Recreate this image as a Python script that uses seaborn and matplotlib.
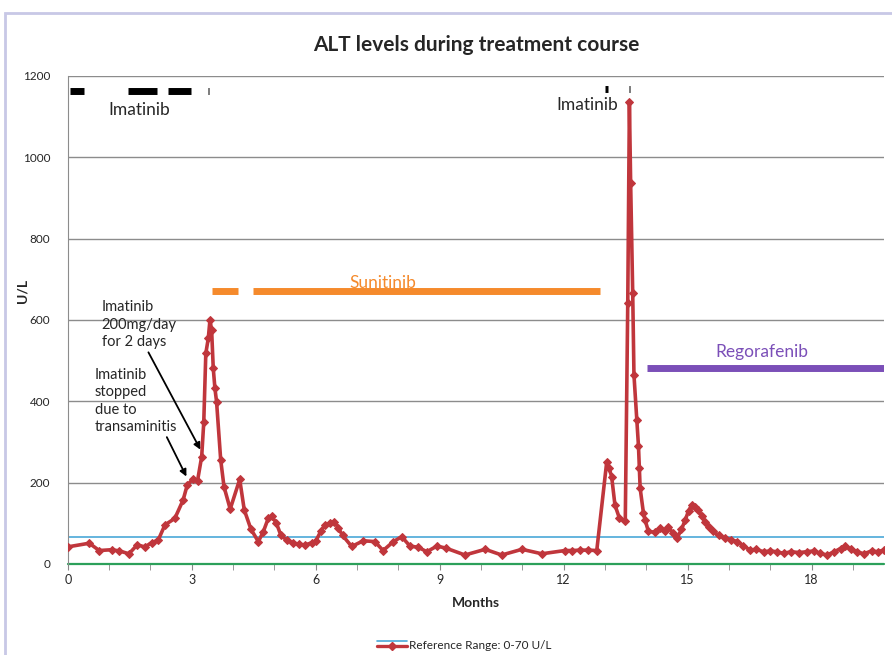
# ALT levels during treatment course - line chart with treatment bars

import matplotlib
matplotlib.use("Agg")
import pandas as pd
import seaborn as sns
import matplotlib.pyplot as plt
from matplotlib.lines import Line2D
from matplotlib.patches import Rectangle

# ALT values (U/L)
months = [0.0, 0.52, 0.76, 1.06, 1.25, 1.48, 1.68, 1.86, 2.03, 2.19, 2.35, 2.59, 2.79, 2.89,
          3.03, 3.14, 3.24, 3.29, 3.34, 3.40, 3.44, 3.48, 3.52, 3.56, 3.60, 3.70, 3.78, 3.93,
          4.16, 4.27, 4.43, 4.61, 4.73, 4.85, 4.93, 5.05, 5.15, 5.30, 5.45, 5.60, 5.75, 5.90,
          6.00, 6.12, 6.22, 6.35, 6.45, 6.55, 6.65, 6.87, 7.15, 7.43, 7.63, 7.88, 8.08, 8.28,
          8.48, 8.69, 8.93, 9.15, 9.61, 10.10, 10.50, 10.99, 11.47, 12.03, 12.20, 12.40, 12.60,
          12.80, 13.04, 13.10, 13.16, 13.24, 13.35, 13.49, 13.55, 13.59, 13.62, 13.67, 13.70,
          13.77, 13.81, 13.83, 13.85, 13.93, 13.97, 14.05, 14.20, 14.33, 14.45, 14.53, 14.65,
          14.74, 14.85, 14.94, 15.02, 15.10, 15.18, 15.26, 15.34, 15.42, 15.52, 15.62, 15.75,
          15.91, 16.05, 16.19, 16.35, 16.51, 16.65, 16.84, 17.00, 17.15, 17.32, 17.50, 17.70,
          17.88, 18.05, 18.20, 18.37, 18.55, 18.70, 18.81, 18.95, 19.10, 19.26, 19.45, 19.60,
          19.74]
alt = [42, 51, 33, 35, 32, 25, 47, 42, 52, 59, 96, 112, 157, 194,
       209, 205, 264, 348, 518, 555, 600, 576, 481, 432, 399, 256, 190, 135,
       208, 133, 86, 55, 79, 112, 118, 100, 72, 58, 52, 48, 47, 52,
       56, 80, 96, 100, 104, 88, 70, 43, 57, 55, 33, 55, 67, 44,
       41, 30, 44, 39, 22, 36, 22, 36, 25, 33, 33, 34, 34,
       33, 250, 235, 215, 145, 112, 105, 641, 1135, 936, 666, 465,
       354, 289, 235, 186, 125, 108, 80, 78, 88, 80, 92, 75,
       63, 85, 108, 130, 145, 140, 133, 118, 104, 90, 80, 70,
       63, 60, 55, 45, 34, 36, 30, 32, 30, 26, 30, 28,
       30, 32, 26, 22, 30, 38, 44, 36, 30, 25, 32, 30,
       34]

# treatment periods (start, end in months)
imatinib_periods = [(0.05, 0.39), (1.46, 2.15), (2.43, 2.97), (3.39, 3.42), (13.01, 13.06), (13.58, 13.61)]
sunitinib_periods = [(3.48, 4.12), (4.49, 12.87)]
regorafenib_periods = [(14.01, 19.75)]
ref_low = 0
ref_high = 66

RED = '#c0363c'
BLUE = '#4aa8d8'

df = pd.DataFrame({"Months": months, "ALT": alt})

sns.set_style("white")
plt.rcParams['font.family'] = ['Lato', 'DejaVu Sans']

fig = plt.figure(figsize=(8.92, 6.55), dpi=100)
fig.patches.append(Rectangle((0.006, -0.01), 1.0, 0.99, transform=fig.transFigure,
                             fill=False, edgecolor='#c8c8e6', linewidth=2))
ax = fig.add_axes([0.076, 0.139, 0.915, 0.745])

# reference range lines
ax.axhline(ref_high, color=BLUE, lw=1.2, zorder=2)
ax.axhline(ref_low, color='#2ca05a', lw=1.6, zorder=2, clip_on=False)

sns.lineplot(data=df, x="Months", y="ALT", ax=ax, color=RED, lw=2.6,
             marker='D', markersize=4, markeredgecolor=RED, zorder=4, legend=False)

# treatment bars
for s, e in imatinib_periods[:4]:
    ax.plot([s, e], [1163, 1163], color='black', lw=5, solid_capstyle='butt')
for s, e in imatinib_periods[4:]:
    ax.plot([s, e], [1167, 1167], color='black', lw=5, solid_capstyle='butt')
for s, e in sunitinib_periods:
    ax.plot([s, e], [672, 672], color='#f58a2c', lw=5, solid_capstyle='butt')
for s, e in regorafenib_periods:
    ax.plot([s, e], [482, 482], color='#7b4fb8', lw=5, solid_capstyle='butt')

ax.text(0.97, 1117, "Imatinib", fontsize=12.5, ha='left', va='center')
ax.text(12.57, 1128, "Imatinib", fontsize=12.5, ha='center', va='center')
ax.text(7.63, 692, "Sunitinib", fontsize=12.5, ha='center', va='center', color='#f58a2c')
ax.text(16.8, 522, "Regorafenib", fontsize=12.5, ha='center', va='center', color='#7b4fb8')

# annotations
ax.annotate("Imatinib\n200mg/day\nfor 2 days", xy=(3.21, 281), xytext=(0.82, 648),
            fontsize=10.5, ha='left', va='top', multialignment='left', linespacing=1.3,
            arrowprops=dict(arrowstyle='-|>', color='black', lw=1.3,
                            shrinkA=0, shrinkB=0, mutation_scale=10, relpos=(0.6, 0.0)))
ax.annotate("Imatinib\nstopped\ndue to\ntransaminitis", xy=(2.87, 215), xytext=(0.66, 482),
            fontsize=10.5, ha='left', va='top', multialignment='left', linespacing=1.3,
            arrowprops=dict(arrowstyle='-|>', color='black', lw=1.3,
                            shrinkA=0, shrinkB=0, mutation_scale=10, relpos=(0.85, 0.0)))

ax.set_xlim(0, 19.75)
ax.set_ylim(0, 1200)
ax.set_xticks([0, 3, 6, 9, 12, 15, 18])
ax.set_xticks(range(0, 20), minor=True)
ax.set_yticks(range(0, 1201, 200))
ax.tick_params(axis='x', which='both', direction='out', length=4, color='#888888',
               labelsize=9, bottom=True)
ax.tick_params(axis='y', labelsize=8.5, left=False, pad=9)
ax.yaxis.grid(True, color='#8c8c8c', lw=1)
for side in ['top', 'right', 'bottom']:
    ax.spines[side].set_visible(False)
ax.spines['left'].set_color('#8c8c8c')

ax.set_xlabel("Months", fontsize=10, fontweight='bold', labelpad=8)
ax.set_ylabel("U/L", fontsize=10, fontweight='bold')
ax.yaxis.set_label_coords(-0.048, 0.56)
ax.set_title("ALT levels during treatment course", fontsize=15, fontweight='bold', pad=18)


class RefHandler:
    # blue reference line drawn above the red ALT line, like the original legend key
    def legend_artist(self, legend, orig_handle, fontsize, handlebox):
        x0, y0 = handlebox.xdescent, handlebox.ydescent
        w, h = handlebox.width, handlebox.height
        arts = [Line2D([x0, x0 + w], [y0 + h * 0.95] * 2, color=BLUE, lw=1.2),
                Line2D([x0, x0 + w], [y0 + h * 0.3] * 2, color=RED, lw=2.4),
                Line2D([x0 + w / 2], [y0 + h * 0.3], color=RED, marker='D', markersize=4)]
        for a in arts:
            a.set_transform(handlebox.get_transform())
            handlebox.add_artist(a)
        return arts[1]


h_alt = Line2D([], [], color=RED)
fig.legend([h_alt], ["Reference Range: 0-70 U/L"], loc='center',
           bbox_to_anchor=(0.52, 0.015), frameon=False, fontsize=8.5,
           handler_map={Line2D: RefHandler()}, handlelength=2.6, handletextpad=0.1)

plt.savefig('out.png', dpi=100)
